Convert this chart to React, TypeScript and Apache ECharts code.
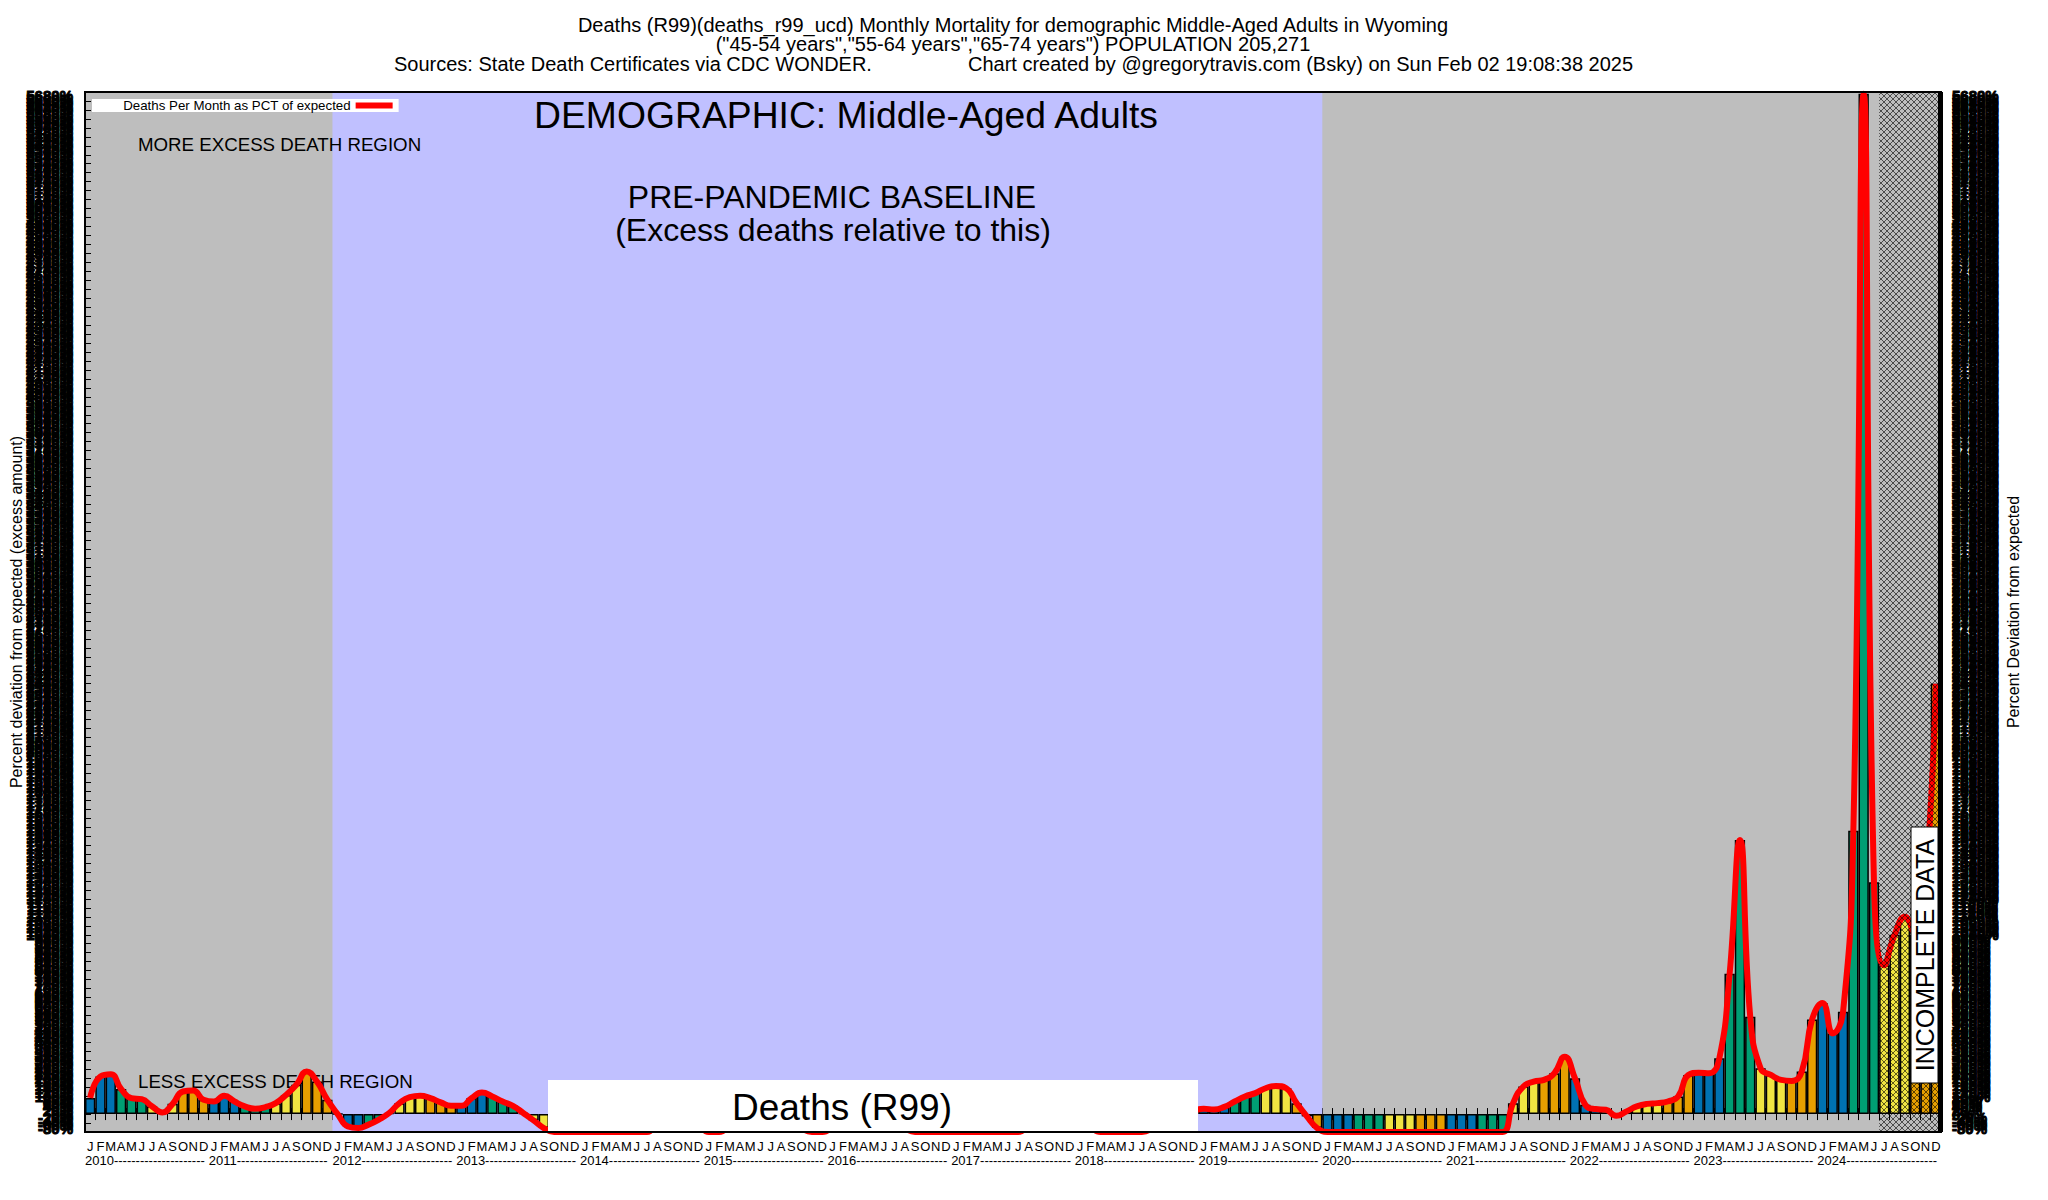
import React, { useEffect, useRef } from 'react';
import * as echarts from 'echarts';

// ---------- data ----------
const years = [2010, 2011, 2012, 2013, 2014, 2015, 2016, 2017, 2018, 2019, 2020, 2021, 2022, 2023, 2024];
const monthInitials = ['J', 'F', 'M', 'A', 'M', 'J', 'J', 'A', 'S', 'O', 'N', 'D'];

// Deaths per month as percent deviation from expected
const pct2010 = [90, 210, 222, 140, 89, 83, 43, 9, 57, 126, 131, 80];
const pct2011 = [70, 102, 70, 43, 30, 39, 61, 107, 163, 237, 181, 80];
const pct2012 = [0, -69, -78, -59, -31, 6, 61, 94, 102, 89, 65, 46];
const pct2013 = [46, 89, 120, 98, 70, 46, 6, -35, -78, -100, -100, -100];
const pct2014 = [-100, -100, -100, -100, -100, -100, -100, -50, -20, 0, -30, -60];
const pct2015 = [-100, -100, -60, -20, 20, 40, 30, 0, -40, -80, -100, -100];
const pct2016 = [-70, -20, 30, 40, 20, -10, -50, -80, -100, -100, -100, -100];
const pct2017 = [-100, -100, -100, -100, -100, -100, -100, -60, -20, 20, 40, 10];
const pct2018 = [-30, -70, -100, -100, -100, -100, -100, -80, -40, -10, 10, 20];
const pct2019 = [30, 25, 40, 70, 98, 117, 144, 157, 144, 61, -13, -78];
const pct2020 = [-100, -100, -100, -100, -100, -100, -100, -100, -100, -100, -100, -100];
const pct2021 = [-100, -100, -100, -100, -100, -100, 61, 154, 181, 191, 228, 320];
const pct2022 = [200, 52, 28, 24, -9, 15, 43, 57, 61, 70, 98, 218];
const pct2023 = [231, 228, 311, 783, 1528, 543, 255, 218, 191, 185, 237, 528];
const pct2024 = [620, 450, 570, 1580, 5690, 1293, 830, 1000, 1100, 1000, 1300, 2400];

const pctByYear = [pct2010, pct2011, pct2012, pct2013, pct2014, pct2015, pct2016, pct2017,
  pct2018, pct2019, pct2020, pct2021, pct2022, pct2023, pct2024];

// region boundaries (month starts)
const baselineStart = '2012-01';
const baselineEnd = '2020-01';
const incompleteStart = '2024-07';
const incompleteEnd = 'end';

const yMin = -100;
const yMax = 5700;
const yLabelStep = 20;
const yTickStep = 50;

const legendLabel = 'Deaths Per Month as PCT of expected';
const titleLine1 = 'Deaths (R99)(deaths_r99_ucd) Monthly Mortality for demographic Middle-Aged Adults in Wyoming';
const titleLine2 = '("45-54 years","55-64 years","65-74 years") POPULATION 205,271';
const sourceText = 'Sources: State Death Certificates via CDC WONDER.';
const creditText = 'Chart created by @gregorytravis.com (Bsky) on Sun Feb 02 19:08:38 2025';
const demographicText = 'DEMOGRAPHIC: Middle-Aged Adults';
const baselineText1 = 'PRE-PANDEMIC BASELINE';
const baselineText2 = '(Excess deaths relative to this)';
const moreText = 'MORE EXCESS DEATH REGION';
const lessText = 'LESS EXCESS DEATH REGION';
const causeText = 'Deaths (R99)';
const incompleteText = 'INCOMPLETE DATA';
const leftAxisName = 'Percent deviation from expected (excess amount)';
const rightAxisName = 'Percent Deviation from expected';

// ---------- styles ----------
const FONT = 'Liberation Sans, Arial, Helvetica, sans-serif';
const seasonColors = ['#0072B2', '#009E73', '#F0E442', '#E69F00'];
const GRID = { left: 85, top: 92, right: 1941, bottom: 1132 };

function buildOption(hatch: any) {
  const months = years.flatMap((y) => monthInitials.map((_, i) => `${y}-${String(i + 1).padStart(2, '0')}`));
  const values = pctByYear.flat();
  const barData = values.map((v, i) => ({
    value: v,
    itemStyle: { color: seasonColors[Math.floor((i % 12) / 3)] },
  }));
  const boundaryCats = [...months, 'end'];
  const dashes = '-'.repeat(21);
  const pctFmt = (v: number) => `${v}%`;

  const txt = (text: string, x: number, y: number, size: number, align: string, z: number, extra: any = {}) => ({
    type: 'text',
    x,
    y,
    z,
    silent: true,
    ...extra,
    style: { text, fill: '#000', font: `${size}px ${FONT}`, align, verticalAlign: 'middle' },
  });

  const valueAxisBase = {
    type: 'value',
    min: yMin,
    max: yMax,
    axisLine: { show: false },
    splitLine: { show: false },
  };

  const denseLabel = {
    fontSize: 15,
    fontWeight: 'bold',
    color: '#000',
    textBorderColor: '#000',
    textBorderWidth: 1,
    fontFamily: FONT,
    formatter: pctFmt,
  };

  return {
    animation: false,
    backgroundColor: '#ffffff',
    textStyle: { fontFamily: FONT },
    grid: {
      left: GRID.left,
      top: GRID.top,
      right: 2048 - GRID.right,
      bottom: 1200 - GRID.bottom,
      show: true,
      backgroundColor: '#bebebe',
      borderWidth: 0,
    },
    legend: {
      left: 92,
      top: 99,
      align: 'right',
      backgroundColor: '#ffffff',
      padding: [0, 6, 0, 31],
      itemWidth: 37,
      itemHeight: 6,
      icon: 'rect',
      selectedMode: false,
      textStyle: { fontSize: 13.3, color: '#000', fontFamily: FONT, lineHeight: 13 },
      data: [legendLabel],
      z: 4,
    },
    xAxis: [
      {
        type: 'category',
        position: 'bottom',
        data: months,
        boundaryGap: true,
        axisLine: { show: false },
        axisTick: { show: true, inside: true, length: 6, interval: 0, lineStyle: { color: '#000', width: 1 } },
        axisLabel: {
          interval: 0,
          margin: 8,
          fontSize: 13,
          color: '#000',
          fontFamily: FONT,
          formatter: (v: string) => monthInitials[Number(v.slice(5)) - 1],
        },
        splitLine: { show: false },
      },
      {
        type: 'category',
        position: 'bottom',
        data: boundaryCats,
        boundaryGap: false,
        axisLine: { show: false },
        axisTick: { show: false },
        axisLabel: {
          interval: 0,
          margin: 22,
          fontSize: 13,
          color: '#000',
          fontFamily: FONT,
          align: 'left',
          formatter: (_v: string, idx: number) =>
            idx % 12 === 0 && idx < months.length ? `${years[idx / 12]}${dashes}` : '',
        },
        splitLine: { show: false },
      },
      {
        type: 'category',
        position: 'top',
        data: months,
        boundaryGap: true,
        axisLine: { show: false },
        axisTick: { show: true, inside: true, length: 6, interval: 0, lineStyle: { color: '#000', width: 1 } },
        axisLabel: { show: false },
        splitLine: { show: false },
      },
    ],
    yAxis: [
      {
        ...valueAxisBase,
        position: 'left',
        interval: yLabelStep,
        axisTick: { show: false },
        axisLabel: { ...denseLabel, margin: 12 },
      },
      {
        ...valueAxisBase,
        position: 'right',
        interval: yLabelStep,
        axisTick: { show: false },
        axisLabel: { ...denseLabel, margin: 11 },
      },
      {
        ...valueAxisBase,
        position: 'left',
        interval: yTickStep,
        axisTick: { show: true, inside: true, length: 6, lineStyle: { color: '#000', width: 1 } },
        axisLabel: { show: false },
      },
    ],
    series: [
      {
        type: 'line',
        name: 'baseline-region',
        data: [],
        xAxisIndex: 1,
        yAxisIndex: 0,
        silent: true,
        markArea: {
          silent: true,
          z: 1,
          itemStyle: { color: '#c0c0ff' },
          label: { show: false },
          data: [[{ xAxis: baselineStart }, { xAxis: baselineEnd }]],
        },
      },
      {
        type: 'bar',
        name: 'monthly',
        data: barData,
        xAxisIndex: 0,
        yAxisIndex: 0,
        barCategoryGap: '0%',
        itemStyle: { borderColor: '#000', borderWidth: 1.5 },
        z: 2,
        silent: true,
      },
      {
        type: 'line',
        name: legendLabel,
        data: values,
        xAxisIndex: 0,
        yAxisIndex: 0,
        smooth: true,
        showSymbol: false,
        color: '#ff0000',
        itemStyle: { color: '#ff0000' },
        lineStyle: { color: '#ff0000', width: 6 },
        z: 3,
        silent: true,
      },
      {
        type: 'line',
        name: 'incomplete-region',
        data: [],
        xAxisIndex: 1,
        yAxisIndex: 0,
        silent: true,
        markArea: {
          silent: true,
          z: 6,
          itemStyle: { color: hatch },
          label: { show: false },
          data: [[{ xAxis: incompleteStart }, { xAxis: incompleteEnd }]],
        },
      },
    ],
    graphic: [
      txt(titleLine1, 1013, 25, 20, 'center', 1),
      txt(titleLine2, 1013, 44, 20, 'center', 1),
      txt(sourceText, 394, 64, 20, 'left', 1),
      txt(creditText, 968, 64, 20, 'left', 1),
      txt(moreText, 138, 144, 18.7, 'left', 1.5),
      txt(lessText, 138, 1081, 18.7, 'left', 1.5),
      txt(demographicText, 846, 115, 37.3, 'center', 1.5),
      txt(baselineText1, 832, 197, 32, 'center', 1.5),
      txt(baselineText2, 833, 230, 32, 'center', 1.5),
      txt(leftAxisName, 16, 612, 16, 'center', 1, { rotation: Math.PI / 2 }),
      txt(rightAxisName, 2013, 612, 16, 'center', 1, { rotation: Math.PI / 2 }),
      {
        type: 'rect',
        z: 5,
        silent: true,
        shape: { x: 548, y: 1080, width: 650, height: 52 },
        style: { fill: '#ffffff' },
      },
      txt(causeText, 842, 1107, 37, 'center', 5.5),
      {
        type: 'rect',
        z: 7,
        silent: true,
        shape: { x: 1911, y: 827, width: 27, height: 256 },
        style: { fill: '#ffffff', stroke: '#000', lineWidth: 1 },
      },
      txt(incompleteText, 1925, 955, 25, 'center', 7.5, { rotation: Math.PI / 2 }),
      {
        type: 'rect',
        z: 8,
        silent: true,
        shape: { x: GRID.left, y: GRID.top, width: GRID.right - GRID.left, height: GRID.bottom - GRID.top },
        style: { fill: 'none', stroke: '#000', lineWidth: 2 },
      },
      {
        type: 'rect',
        z: 8,
        silent: true,
        shape: { x: GRID.right - 3, y: GRID.top, width: 5, height: GRID.bottom - GRID.top },
        style: { fill: '#000' },
      },
    ],
  };
}

function makeHatch() {
  const c = document.createElement('canvas');
  c.width = 6;
  c.height = 6;
  const ctx = c.getContext('2d');
  if (ctx) {
    ctx.strokeStyle = 'rgba(0,0,0,0.6)';
    ctx.lineWidth = 1;
    ctx.beginPath();
    ctx.moveTo(-1, -1);
    ctx.lineTo(7, 7);
    ctx.moveTo(7, -1);
    ctx.lineTo(-1, 7);
    ctx.stroke();
  }
  return { image: c.toDataURL(), repeat: 'repeat', imageWidth: 6, imageHeight: 6 };
}

export default function App() {
  const ref = useRef<HTMLDivElement>(null);
  useEffect(() => {
    if (!ref.current) return;
    const chart = echarts.init(ref.current, null, { renderer: 'svg' });
    chart.setOption(buildOption(makeHatch()) as any);
    return () => chart.dispose();
  }, []);
  return (
    <div
      ref={ref}
      style={{ position: 'fixed', left: 0, top: 0, width: 2048, height: 1200, background: '#fff' }}
    />
  );
}
